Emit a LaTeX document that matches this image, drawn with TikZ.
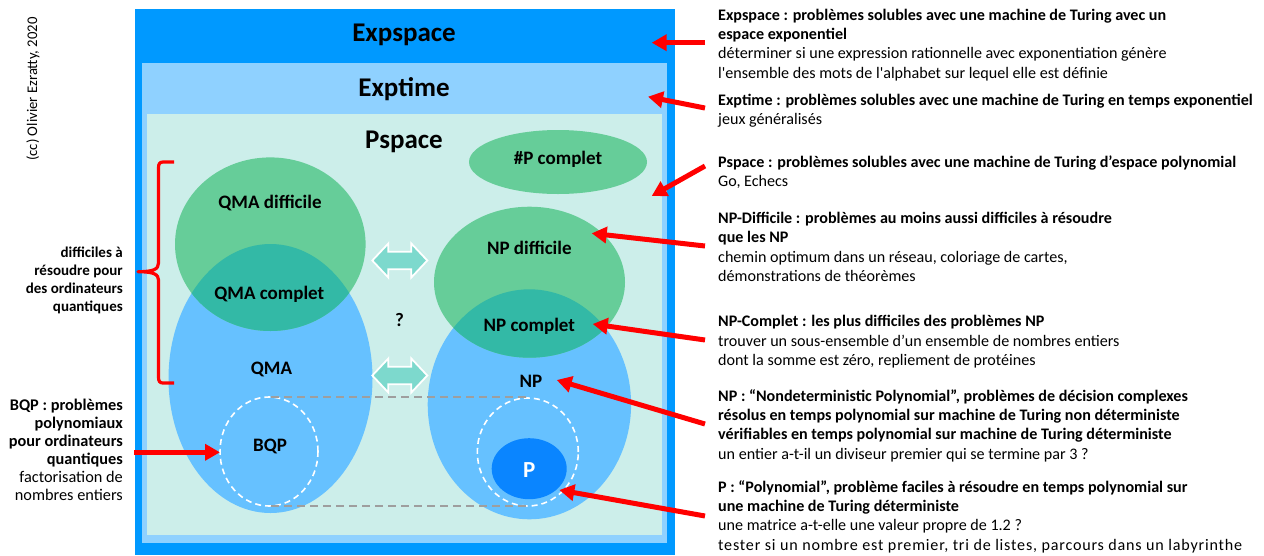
\documentclass[tikz,border=0pt]{standalone}
\usepackage{fontspec}
\setmainfont{Carlito}
\usetikzlibrary{arrows.meta,shapes.geometric}
\definecolor{expblue}{RGB}{0,153,255}
\definecolor{exptimeblue}{RGB}{143,209,255}
\definecolor{pspacebg}{RGB}{204,238,234}
\definecolor{hardgreen}{RGB}{102,205,153}
\definecolor{setblue}{RGB}{102,193,255}
\definecolor{overteal}{RGB}{51,185,166}
\definecolor{pblue}{RGB}{10,133,255}
\definecolor{dblfill}{RGB}{125,217,205}
\definecolor{dashgray}{RGB}{158,158,158}
\newcommand{\fl}{\rule{0pt}{13pt}}
\begin{document}
\begin{tikzpicture}[x=1pt,y=-1pt,
  title/.style={font=\fontsize{27}{32}\selectfont\bfseries, anchor=base, inner sep=0},
  lab/.style={font=\fontsize{19}{23}\selectfont\bfseries, anchor=base, inner sep=0},
  desc/.style={font=\fontsize{16.1}{19.3}\selectfont, align=left, anchor=north west, inner sep=0},
  side/.style={font=\fontsize{15}{18}\selectfont, align=right, anchor=north east, inner sep=0},
  pointer/.style={draw=red, line width=5pt, -{Triangle[length=15pt,width=16pt]}},
  blob/.style={ellipse, inner sep=0, outer sep=0, draw=none},
  dashring/.style={draw=white, line width=1.6pt, dash pattern=on 6pt off 4pt},
  guide/.style={draw=dashgray, line width=1.8pt, dash pattern=on 8pt off 5pt},
  dblarrow/.style={fill=dblfill, draw=white, line width=1.8pt, line join=miter}
]
\useasboundingbox (0,0) rectangle (1264,555);

% nested classes
\fill[expblue] (135,9) rectangle (675,555);
\fill[exptimeblue] (142,62.7) rectangle (666.7,542.7);
\fill[pspacebg] (146.7,114) rectangle (661.7,535);

\node[title] (expspace) at (404,41.7) {Expspace};
\node[title] (exptime) at (404,96.7) {Exptime};
\node[title] (pspace) at (404,148) {Pspace};

% #P complet
\node[blob, fill=hardgreen, minimum width=178pt, minimum height=64pt] (sharpp) at (558,162) {};
\node[lab] (sharpplab) at (558,164) {\#P complet};

% QMA side
\node[blob, fill=setblue, minimum width=204pt, minimum height=269pt] (qma) at (270.5,378.5) {};
\node[blob, fill=hardgreen, minimum width=190.6pt, minimum height=173.6pt] (qmahard) at (270.3,244.2) {};
\begin{scope}
  \clip (270.5,378.5) ellipse [x radius=102pt, y radius=134.5pt];
  \fill[overteal] (270.3,244.2) ellipse [x radius=95.3pt, y radius=86.8pt];
\end{scope}

% NP side
\node[blob, fill=setblue, minimum width=203.4pt, minimum height=230pt] (np) at (529.4,404.3) {};
\node[blob, fill=hardgreen, minimum width=191pt, minimum height=151pt] (nphard) at (529.5,282.2) {};
\begin{scope}
  \clip (529.4,404.3) ellipse [x radius=101.7pt, y radius=115pt];
  \fill[overteal] (529.5,282.2) ellipse [x radius=95.5pt, y radius=75.5pt];
\end{scope}

% BQP and P
\node[blob, dashring, minimum width=98pt, minimum height=109pt] (bqp) at (269,451.5) {};
\node[blob, dashring, minimum width=101pt, minimum height=108pt] (pring) at (527.8,452) {};
\node[blob, fill=pblue, minimum width=75pt, minimum height=61pt] (p) at (529.2,468.7) {};

% gray guides (top and bottom of BQP)
\coordinate (g1a) at (271,397.3); \coordinate (g1b) at (528,397.3);
\coordinate (g2a) at (271,506);   \coordinate (g2b) at (528,506);
\draw[guide] (g1a) -- (g1b);
\draw[guide] (g2a) -- (g2b);

% labels
\node[lab] (qmahardlab) at (270,208.4) {QMA difficile};
\node[lab] (qmacomplab) at (269.3,299.4) {QMA complet};
\node[lab] (qmalab) at (271.5,374.4) {QMA};
\node[lab] (nphardlab) at (529.3,254.4) {NP difficile};
\node[lab] (npcomplab) at (529.3,331) {NP complet};
\node[lab] (nplab) at (531,387) {NP};
\node[lab] (bqplab) at (270,451) {BQP};
\node[lab, font=\fontsize{23}{27}\selectfont\bfseries, text=white] (plab) at (529.2,477.7) {P};
\node[lab] (qmark) at (399.5,326.5) {?};

% double arrows
\path[dblarrow, shift={(399.8,260.5)}] (-27.5,0) -- (-11.5,-17) -- (-11.5,-8.8) -- (11.5,-8.8) -- (11.5,-17) -- (27.5,0) -- (11.5,17) -- (11.5,8.8) -- (-11.5,8.8) -- (-11.5,17) -- cycle;
\path[dblarrow, shift={(399.8,375.5)}] (-27.5,0) -- (-11.5,-17) -- (-11.5,-8.8) -- (11.5,-8.8) -- (11.5,-17) -- (27.5,0) -- (11.5,17) -- (11.5,8.8) -- (-11.5,8.8) -- (-11.5,17) -- cycle;

% brace
\draw[red, line width=3.2pt, line cap=butt, line join=round] (174,162) -- (163,162) .. controls (159.5,162) and (158.5,164) .. (158.5,168) -- (158.5,263) .. controls (158.5,269) and (154,271.7) .. (138,271.7) .. controls (154,271.7) and (158.5,274.5) .. (158.5,280) -- (158.5,377) .. controls (158.5,381) and (159.5,383) .. (163,383) -- (174,383);

% side texts
\node[font=\fontsize{14.7}{17}\selectfont, rotate=90, inner sep=0] (cc) at (33,89) {(cc) Olivier Ezratty, 2020};
\node[side] (lhard) at (123,244.3) {\fl\textbf{difficiles à}\\\textbf{résoudre pour}\\\textbf{des ordinateurs}\\\textbf{quantiques}};
\node[side, font=\fontsize{16.3}{18.1}\selectfont] (lbqp) at (123,397) {\fl\textbf{BQP : problèmes}\\\textbf{polynomiaux}\\\textbf{pour ordinateurs}\\\textbf{quantiques}\\factorisation de\\nombres entiers};

\node[desc] (dexp) at (718,7) {\fl\textbf{Expspace : problèmes solubles avec une machine de Turing avec un}\\\textbf{espace exponentiel}\\déterminer si une expression rationnelle avec exponentiation génère\\l\textquotesingle ensemble des mots de l\textquotesingle alphabet sur lequel elle est définie};
\node[desc] (dexpt) at (718,92) {\fl\textbf{Exptime : problèmes solubles avec une machine de Turing en temps exponentiel}\\jeux généralisés};
\node[desc] (dps) at (718,154) {\fl\textbf{Pspace : problèmes solubles avec une machine de Turing d’espace polynomial}\\Go, Echecs};
\node[desc] (dnph) at (718,210.3) {\fl\textbf{NP-Difficile : problèmes au moins aussi difficiles à résoudre}\\\textbf{que les NP}\\chemin optimum dans un réseau, coloriage de cartes,\\démonstrations de théorèmes};
\node[desc] (dnpc) at (718,313.7) {\fl\textbf{NP-Complet : les plus difficiles des problèmes NP}\\trouver un sous-ensemble d’un ensemble de nombres entiers\\dont la somme est zéro, repliement de protéines};
\node[desc] (dnp) at (718,388) {\fl\textbf{NP : “Nondeterministic Polynomial”, problèmes de décision complexes}\\\textbf{résolus en temps polynomial sur machine de Turing non déterministe}\\\textbf{vérifiables en temps polynomial sur machine de Turing déterministe}\\un entier a-t-il un diviseur premier qui se termine par 3 ?};
\node[desc] (dp) at (718,479) {\fl\textbf{P : “Polynomial”, problème faciles à résoudre en temps polynomial sur}\\\textbf{une machine de Turing déterministe}\\une matrice a-t-elle une valeur propre de 1.2 ?\\{\addfontfeatures{LetterSpace=5.0}tester si un nombre est premier, tri de listes, parcours dans un labyrinthe}};

% arrow ends
\coordinate (t1) at (705,42.7);   \coordinate (h1) at (651.7,42.7);
\coordinate (t2) at (705,108);    \coordinate (h2) at (648,96.7);
\coordinate (t3) at (705,166);    \coordinate (h3) at (651.7,196);
\coordinate (t4) at (705,246);    \coordinate (h4) at (591.7,233.3);
\coordinate (t5) at (705,340);    \coordinate (h5) at (592.7,324);
\coordinate (t6) at (705,424);    \coordinate (h6) at (556.7,380);
\coordinate (t7) at (705,516);    \coordinate (h7) at (559.3,490);
\coordinate (t8) at (134,452.3);  \coordinate (h8) at (220,452.3);
\foreach \i in {1,...,8} { \draw[pointer] (t\i) -- (h\i); }
\end{tikzpicture}
\end{document}
